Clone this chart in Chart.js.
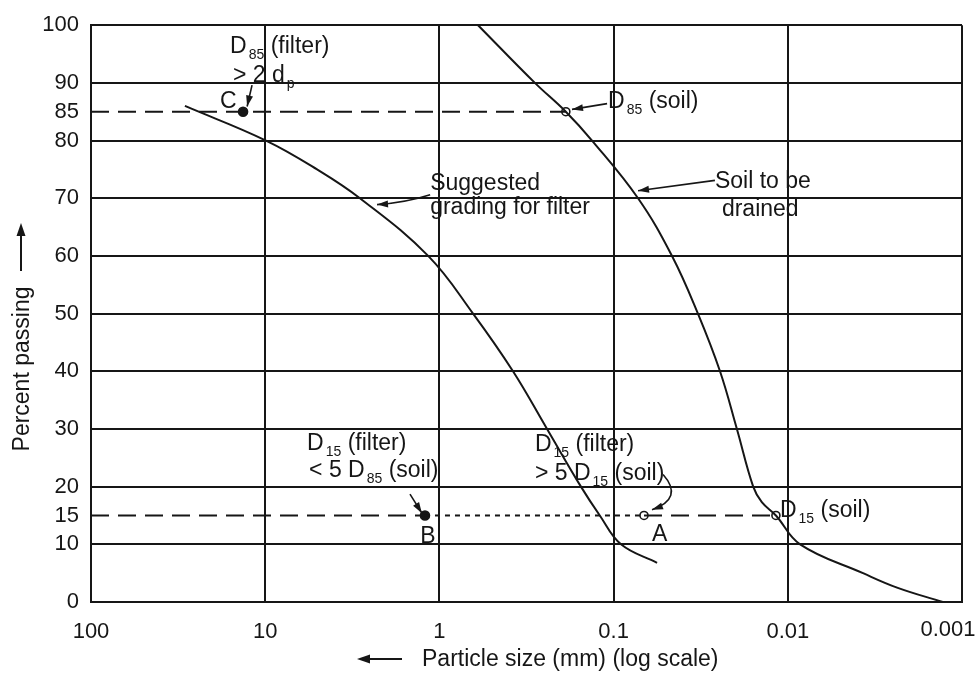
<!DOCTYPE html>
<html>
<head>
<meta charset="utf-8">
<script src="https://cdn.jsdelivr.net/npm/chart.js@4.4.1/dist/chart.umd.min.js"></script>
<style>
  html, body { margin: 0; padding: 0; background: #fff; }
  #wrap { width: 980px; height: 677px; }
</style>
</head>
<body>
<div id="wrap"><canvas id="gradingChart" width="980" height="677"></canvas></div>
<script>
// axis ticks
const xTicks = [100, 10, 1, 0.1, 0.01, 0.001];
const yTicks = [0, 10, 15, 20, 30, 40, 50, 60, 70, 80, 85, 90, 100];

// soil to be drained: particle size (mm) vs percent passing
const soilSize    = [0.60, 0.283, 0.188, 0.133, 0.0724, 0.0462, 0.0328, 0.0245, 0.0196, 0.0158, 0.0141, 0.0117, 0.0085, 0.0037, 0.00236, 0.00129];
const soilPassing = [100, 90, 85, 80, 70, 60, 50, 40, 30, 20, 17.3, 15, 10, 5, 2.5, 0];

// suggested grading for filter
const filterSize    = [28.9, 9.9, 5.04, 2.86, 1.16, 0.641, 0.378, 0.241, 0.154, 0.120, 0.0907, 0.0563];
const filterPassing = [86, 80, 75, 70, 60, 50, 40, 30, 20, 15, 10, 6.8];

// marked points C, D85(soil), B, A, D15(soil)
const pointSize    = [13.4, 0.188, 1.21, 0.0669, 0.0117];
const pointPassing = [85, 85, 15, 15, 15];
const pointFilled  = [true, false, true, false, false];

const ink = '#161616';
const FONT = '"Liberation Sans", Arial, Helvetica, sans-serif';

// text notes: [size mm, percent] of left end of baseline, parts with subscripts
const notes = [
  { at: [15.9, 95.1], parts: [['D'], ['85', 1], [' (filter)']] },
  { at: [15.3, 90.1], parts: [['> 2 d'], ['p', 1]] },
  { at: [18.2, 85.7], parts: [['C']] },
  { at: [0.1076, 85.7], parts: [['D'], ['85', 1], [' (soil)']] },
  { at: [1.13, 71.4], parts: [['Suggested']] },
  { at: [1.13, 67.3], parts: [['grading for filter']] },
  { at: [0.0262, 71.8], parts: [['Soil to be']] },
  { at: [0.0239, 67.0], parts: [['drained']] },
  { at: [5.75, 26.4], parts: [['D'], ['15', 1], [' (filter)']] },
  { at: [5.6, 21.6], parts: [['< 5 D'], ['85', 1], [' (soil)']] },
  { at: [1.29, 10.2], parts: [['B']] },
  { at: [0.283, 26.2], parts: [['D'], ['15', 1], [' (filter)']] },
  { at: [0.283, 21.1], parts: [['> 5 D'], ['15', 1], [' (soil)']] },
  { at: [0.0602, 10.5], parts: [['A']] },
  { at: [0.0111, 14.8], parts: [['D'], ['15', 1], [' (soil)']] }
];

// arrows: from -> to (head at "to"), optional bend control point
const arrows = [
  { from: [11.9, 89.6], to: [12.7, 85.9] },
  { from: [0.109, 86.4], to: [0.1733, 85.4] },
  { from: [1.13, 70.6], to: [2.28, 68.9], ctrl: [1.576, 69.2] },
  { from: [0.0262, 73.1], to: [0.0724, 71.3] },
  { from: [1.475, 18.7], to: [1.26, 15.4] },
  { from: [0.052, 22.1], to: [0.0602, 16.0], ctrl: [0.0394, 18.0] }
];

function xy(sizes, passing) {
  return sizes.map((s, i) => ({ x: s, y: passing[i] }));
}

function refLine(a, b, dash) {
  return {
    data: [{ x: a[0], y: a[1] }, { x: b[0], y: b[1] }],
    showLine: true, borderColor: ink, borderWidth: 2, borderDash: dash,
    pointRadius: 0, fill: false
  };
}

function drawRich(ctx, x, y, parts) {
  let cx = x;
  parts.forEach(([t, sub]) => {
    if (sub) cx += 2;
    ctx.font = (sub ? '14px ' : '23px ') + FONT;
    ctx.fillText(t, cx, sub ? y + 6 : y);
    cx += ctx.measureText(t).width;
  });
}

function drawArrowHead(ctx, x, y, ang, len, half) {
  ctx.beginPath();
  ctx.moveTo(x, y);
  ctx.lineTo(x - len * Math.cos(ang) + half * Math.sin(ang), y - len * Math.sin(ang) - half * Math.cos(ang));
  ctx.lineTo(x - len * Math.cos(ang) - half * Math.sin(ang), y - len * Math.sin(ang) + half * Math.cos(ang));
  ctx.closePath();
  ctx.fill();
}

const annotationPlugin = {
  id: 'annotations',
  afterDraw(chart) {
    const ctx = chart.ctx;
    const xs = chart.scales.x, ys = chart.scales.y;
    const P = p => [xs.getPixelForValue(p[0]), ys.getPixelForValue(p[1])];
    ctx.save();
    ctx.fillStyle = ink;
    ctx.strokeStyle = ink;
    ctx.textBaseline = 'alphabetic';
    ctx.textAlign = 'left';

    notes.forEach(n => {
      const [px, py] = P(n.at);
      drawRich(ctx, px, py, n.parts);
    });

    ctx.lineWidth = 1.6;
    arrows.forEach(a => {
      const [x0, y0] = P(a.from);
      const [x1, y1] = P(a.to);
      ctx.beginPath();
      ctx.moveTo(x0, y0);
      let ang;
      if (a.ctrl) {
        const [cx, cy] = P(a.ctrl);
        ctx.quadraticCurveTo(cx, cy, x1, y1);
        ang = Math.atan2(y1 - cy, x1 - cx);
      } else {
        ctx.lineTo(x1, y1);
        ang = Math.atan2(y1 - y0, x1 - x0);
      }
      ctx.stroke();
      drawArrowHead(ctx, x1, y1, ang, 11, 3.5);
    });

    // last x tick label sits inside the frame edge
    ctx.font = '22px ' + FONT;
    ctx.textAlign = 'center';
    ctx.textBaseline = 'middle';
    ctx.fillText('0.001', xs.getPixelForValue(0.001) - 14, chart.chartArea.bottom + 28);

    // axis titles with arrows
    ctx.font = '23px ' + FONT;
    ctx.textAlign = 'left';
    ctx.textBaseline = 'alphabetic';
    ctx.fillText('Particle size (mm) (log scale)', 422, 666);
    ctx.lineWidth = 2;
    ctx.beginPath();
    ctx.moveTo(402, 659);
    ctx.lineTo(366, 659);
    ctx.stroke();
    drawArrowHead(ctx, 357, 659, Math.PI, 13, 4.5);

    ctx.save();
    ctx.translate(29, 369);
    ctx.rotate(-Math.PI / 2);
    ctx.textAlign = 'center';
    ctx.fillText('Percent passing', 0, 0);
    ctx.restore();
    ctx.beginPath();
    ctx.moveTo(21, 271);
    ctx.lineTo(21, 234);
    ctx.stroke();
    drawArrowHead(ctx, 21, 223, -Math.PI / 2, 13, 4.5);

    ctx.restore();
  }
};

const ctx = document.getElementById('gradingChart').getContext('2d');
new Chart(ctx, {
  type: 'scatter',
  data: {
    datasets: [
      refLine([100, pointPassing[0]], [pointSize[1], pointPassing[1]], [18, 9]),
      refLine([100, pointPassing[2]], [pointSize[2], pointPassing[2]], [18, 9]),
      refLine([pointSize[2], pointPassing[2]], [pointSize[3], pointPassing[3]], [5, 5]),
      refLine([pointSize[3], pointPassing[3]], [pointSize[4], pointPassing[4]], [18, 9]),
      {
        label: 'Soil to be drained',
        data: xy(soilSize, soilPassing),
        showLine: true, borderColor: ink, borderWidth: 2, pointRadius: 0,
        tension: 0.4
      },
      {
        label: 'Suggested grading for filter',
        data: xy(filterSize, filterPassing),
        showLine: true, borderColor: ink, borderWidth: 2, pointRadius: 0,
        tension: 0.4
      },
      {
        label: 'Points',
        data: xy(pointSize, pointPassing),
        showLine: false,
        pointRadius: pointFilled.map(f => f ? 4.5 : 4),
        pointBackgroundColor: pointFilled.map(f => f ? ink : '#fff'),
        pointBorderColor: ink,
        pointBorderWidth: 1.6
      }
    ]
  },
  options: {
    responsive: false,
    animation: false,
    layout: { padding: { top: 14, right: 18, left: 0, bottom: 0 } },
    plugins: { legend: { display: false }, tooltip: { enabled: false } },
    scales: {
      x: {
        type: 'logarithmic',
        reverse: true,
        min: 0.001,
        max: 100,
        afterBuildTicks: s => { s.ticks = xTicks.map(v => ({ value: v })); },
        afterFit: s => { s.height = 75; s.paddingLeft = 0; s.paddingRight = 0; },
        ticks: {
          autoSkip: false, maxRotation: 0, padding: 17, color: ink,
          font: { family: FONT, size: 22 },
          callback: v => (v === 0.001 ? '' : String(v))
        },
        grid: { color: ink, lineWidth: 2, drawTicks: false },
        border: { color: ink, width: 2 }
      },
      y: {
        min: 0,
        max: 100,
        afterBuildTicks: s => { s.ticks = yTicks.map(v => ({ value: v })); },
        afterFit: s => { s.width = 91; },
        ticks: {
          autoSkip: false, padding: 12, color: ink,
          font: { family: FONT, size: 22 },
          callback: v => String(v)
        },
        grid: {
          color: c => (c.tick && (c.tick.value === 15 || c.tick.value === 85)) ? 'rgba(0,0,0,0)' : ink,
          lineWidth: 2, drawTicks: false
        },
        border: { color: ink, width: 2 }
      }
    }
  },
  plugins: [annotationPlugin]
});
</script>
</body>
</html>
